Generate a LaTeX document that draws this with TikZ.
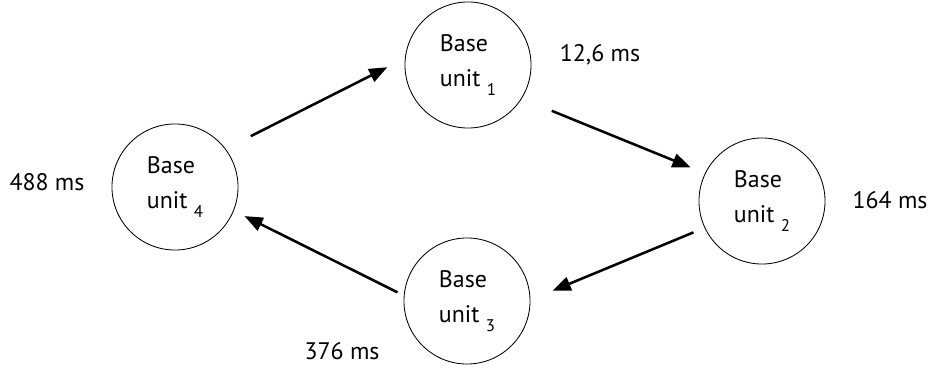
\documentclass[tikz,border=0pt]{standalone}
\usepackage{fontspec}
\setmainfont{PT Sans}
\usepackage{tikz}
\usetikzlibrary{arrows.meta}

\newcommand{\unitsub}[1]{~\raisebox{-6pt}{\fontsize{12}{12}\selectfont #1}}

\begin{document}
\begin{tikzpicture}[
  x=0.025cm, y=-0.025cm,
  unit/.style={circle, draw, line width=0.6pt, minimum size=3.15cm, inner sep=0pt, align=left, font=\fontsize{17}{25}\selectfont},
  timing/.style={font=\fontsize{17}{20}\selectfont, inner sep=0pt},
  arrow/.style={-{Triangle[length=13pt, width=10pt]}, line width=1.8pt}
]
  \useasboundingbox (0,0) rectangle (928,377);

  % Nodes
  \node (u1) [unit] at (468,65) {Base\\unit\unitsub{1}};
  \node (u2) [unit] at (762,201) {Base\\unit\unitsub{2}};
  \node (u3) [unit] at (467,301) {Base\\unit\unitsub{3}};
  \node (u4) [unit] at (175,187) {Base\\unit\unitsub{4}};

  % Timings
  \node (t1) [timing] at (600,55) {12,6 ms};
  \node (t2) [timing] at (890,200) {164 ms};
  \node (t3) [timing] at (342,351) {376 ms};
  \node (t4) [timing] at (47,182) {488 ms};

  % Connectors
  \draw [arrow, shorten <=20pt, shorten >=14pt] (u4.37) -- (u1.174);
  \draw [arrow, shorten <=23pt, shorten >=11pt] (u1.-32.5) -- (u2.154);
  \draw [arrow, shorten <=8.5pt, shorten >=17pt] (u2.205) -- (u3.1);
  \draw [arrow, shorten <=5pt, shorten >=8.5pt] (u3.175) -- (u4.-22);
\end{tikzpicture}
\end{document}
